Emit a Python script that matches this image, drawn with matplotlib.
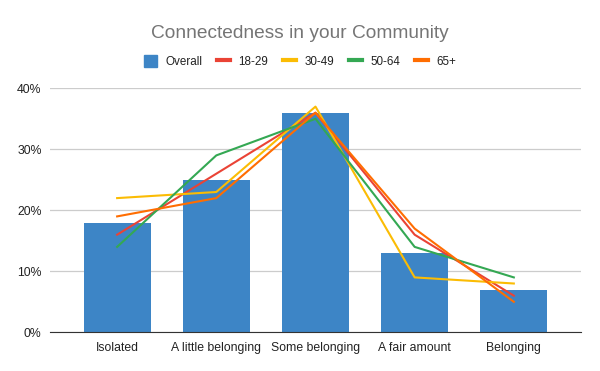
import numpy as np
import matplotlib
matplotlib.use('Agg')
import matplotlib.pyplot as plt
from matplotlib.patches import Patch
from matplotlib.lines import Line2D
from matplotlib.ticker import PercentFormatter

plt.rcParams['font.family'] = ['Liberation Sans', 'DejaVu Sans']

categories = ['Isolated', 'A little belonging', 'Some belonging', 'A fair amount', 'Belonging']
overall = [18, 25, 36, 13, 7]
age_18_29 = [16, 26, 36, 16, 6]
age_30_49 = [22, 23, 37, 9, 8]
age_50_64 = [14, 29, 35, 14, 9]
age_65_up = [19, 22, 36, 17, 5]

series = [('18-29', age_18_29, '#ea4335'),
          ('30-49', age_30_49, '#fbbc04'),
          ('50-64', age_50_64, '#34a853'),
          ('65+', age_65_up, '#ff6d01')]

fig = plt.figure(figsize=(6, 3.71), dpi=100)
ax = fig.add_axes([0.0833, 0.1043, 0.885, 0.6577])

x = np.arange(len(categories))
ax.bar(x, overall, width=0.674, color='#3d85c6', zorder=2)
for name, vals, col in series:
    ax.plot(x, vals, color=col, lw=1.5, zorder=3)

ax.set_xlim(-0.677, 4.677)
ax.set_ylim(0, 40)
ax.set_yticks([0, 10, 20, 30, 40])
ax.yaxis.set_major_formatter(PercentFormatter(decimals=0))
ax.set_xticks(x)
ax.set_xticklabels(categories)
ax.tick_params(axis='both', length=0, labelsize=8.8, colors='#222222')
ax.tick_params(axis='x', pad=7)
ax.tick_params(axis='y', pad=6)
ax.grid(axis='y', color='#cccccc', lw=0.9, zorder=0)
for s in ['left', 'right', 'top']:
    ax.spines[s].set_visible(False)
ax.spines['bottom'].set_color('#333333')
ax.spines['bottom'].set_zorder(4)

fig.text(0.5, 0.91, 'Connectedness in your Community', ha='center', va='center',
         fontsize=13.8, color='#757575')

handles = [Patch(color='#3d85c6')] + [Line2D([], [], color=c, lw=3) for _, _, c in series]
labels = ['Overall'] + [n for n, _, _ in series]
fig.legend(handles, labels, loc='center', bbox_to_anchor=(0.5, 0.834), ncol=5,
           frameon=False, fontsize=8.4, handlelength=1.1, handleheight=1.1,
           columnspacing=1.25, handletextpad=0.75, labelcolor='#222222')

plt.savefig('out.png')
